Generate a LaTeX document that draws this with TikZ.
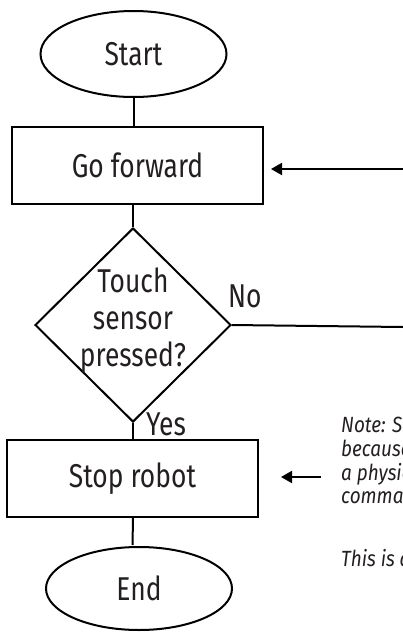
\documentclass[tikz,border=0pt]{standalone}
\usepackage{fontspec}
\setmainfont[FakeStretch=0.8]{Fira Sans}
\newfontfamily\notefont[FakeStretch=0.86]{Fira Sans}
\usetikzlibrary{shapes.geometric,arrows.meta}
\definecolor{ink}{HTML}{231F20}
\begin{document}
\begin{tikzpicture}[x=1pt,y=-1pt,
  every node/.style={font=\fontsize{33}{37}\selectfont, text=ink},
  term/.style={draw, ellipse, line width=2pt, minimum width=186pt, minimum height=86pt, inner sep=0pt},
  procbox/.style={draw, rectangle, line width=2pt, minimum width=251pt, minimum height=77pt, inner sep=0pt},
  decide/.style={draw, diamond, line width=2pt, minimum width=196pt, minimum height=194pt, inner sep=0pt},
  conn/.style={line width=2pt},
  arr/.style={line width=2pt, -{Triangle[length=11pt,width=12pt]}},
  lab/.style={font=\fontsize{33}{37}\selectfont, anchor=base west, inner sep=0pt},
  notetxt/.style={font=\notefont\fontsize{22}{23.5}\selectfont\itshape, anchor=base west, inner sep=0pt, text=ink}]
\useasboundingbox (0,0) rectangle (403,632);
\clip (0,0) rectangle (403,632);
\node[term] (start) at (133.5,54) {Start};
\node[procbox] (gof) at (137.5,165.5) {Go forward};
\node[decide] (dia) at (133,325) {};
\node[align=center, inner sep=0pt] (diatext) at (133,321) {Touch\\sensor\\pressed?};
\node[procbox] (stop) at (132.5,478.5) {Stop robot};
\node[term, minimum height=83pt] (end) at (139,588.5) {End};
\coordinate (loopin) at (403,169);
\coordinate (noout) at (403,327);
\coordinate (notearr) at (321,477);
\draw[conn] (start.south) -- (start.south |- gof.north);
\draw[conn] (gof.south -| dia.north) -- (dia.north);
\draw[conn] (dia.south) -- (dia.south |- stop.north);
\draw[conn] (stop.south -| dia.south) -- ([yshift=1pt]stop.south |- end.north);
\draw[conn] (dia.east) -- (noout);
\draw[arr, shorten >=7pt] (loopin) -- (loopin -| gof.east);
\draw[arr, shorten >=22pt] (notearr) -- (notearr -| stop.east);
\node[lab] (nolab) at (228,307) {No};
\node[lab] (yeslab) at (146,435) {Yes};
\node[notetxt] (n1) at (341,432) {Note: Sa};
\node[notetxt] (n2) at (341,456) {because};
\node[notetxt] (n3) at (341,480) {a physic};
\node[notetxt] (n4) at (341,503) {comman};
\node[notetxt] (n5) at (341,566) {This is a};
\end{tikzpicture}
\end{document}
